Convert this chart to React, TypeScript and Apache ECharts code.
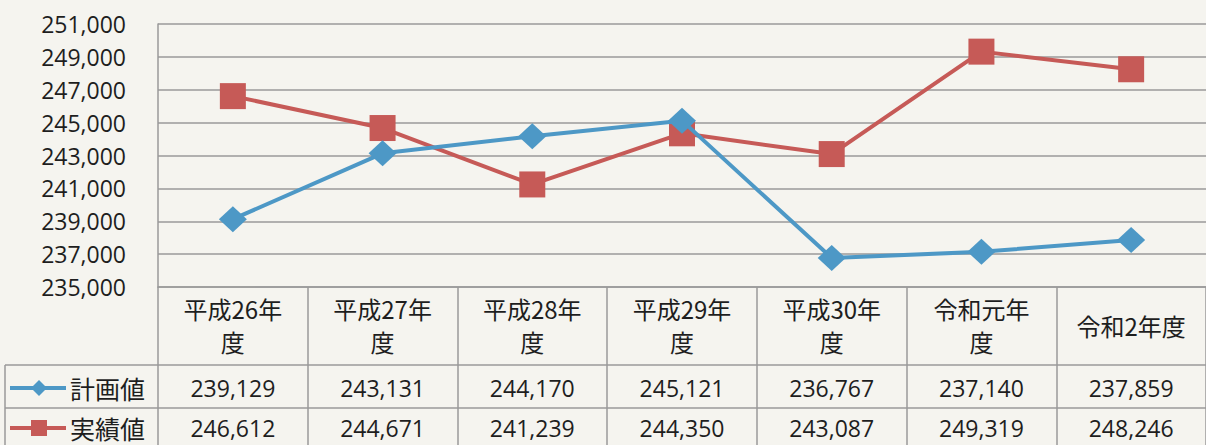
import React, { useEffect, useRef } from "react";
import * as echarts from "echarts";

const categories = ["平成26年\n度", "平成27年\n度", "平成28年\n度", "平成29年\n度", "平成30年\n度", "令和元年\n度", "令和2年度"];
const planned = [239129, 243131, 244170, 245121, 236767, 237140, 237859];
const actual = [246612, 244671, 241239, 244350, 243087, 249319, 248246];
const seriesNames = ["計画値", "実績値"];
const yMin = 235000;
const yMax = 251000;
const yStep = 2000;

const BLUE = "#4d98c6";
const RED = "#c65a57";
const GRID = "#9a9a9a";
const TEXT = "#1e1e1e";
const NUM_FONT = "'Open Sans', 'Noto Sans CJK JP', sans-serif";
const JP_FONT = "'Noto Sans CJK JP', sans-serif";

const fmt = (v: number) => v.toLocaleString("en-US");

export default function App() {
  const ref = useRef<HTMLDivElement>(null);
  useEffect(() => {
    document.body.style.margin = "0";
    const chart = echarts.init(ref.current!, null, { renderer: "svg" });
    const gridLeft = 158;
    const gridTop = 24;
    const gridBottomY = 287;
    const H = 445;
    const W = 1206;
    const row1 = 388;
    const row2 = 428;
    const valueAxis = (data: string[], offset: number) => ({
      type: "category",
      gridIndex: 0,
      position: "bottom",
      offset,
      data,
      boundaryGap: true,
      axisLine: { show: false },
      axisTick: { show: false },
      axisLabel: {
        interval: 0,
        margin: 0,
        verticalAlign: "middle",
        fontSize: 23,
        fontFamily: NUM_FONT,
        color: TEXT,
      },
    });
    chart.setOption({
      animation: false,
      backgroundColor: "#f5f4ef",
      grid: { left: gridLeft, top: gridTop, right: 0, bottom: H - gridBottomY, containLabel: false },
      xAxis: [
        {
          type: "category",
          data: categories,
          boundaryGap: true,
          position: "bottom",
          axisLine: { show: true, lineStyle: { color: GRID, width: 1.5 } },
          axisTick: { show: true, alignWithLabel: false, interval: 0, length: H - gridBottomY, lineStyle: { color: GRID, width: 1.5 } },
          axisLabel: {
            interval: 0,
            margin: 38,
            verticalAlign: "middle",
            lineHeight: 33,
            fontSize: 24,
            fontFamily: JP_FONT,
            color: TEXT,
          },
        },
        valueAxis(planned.map(fmt), row1 - gridBottomY),
        valueAxis(actual.map(fmt), row2 - gridBottomY),
      ],
      yAxis: {
        type: "value",
        min: yMin,
        max: yMax,
        interval: yStep,
        axisLine: { show: true, lineStyle: { color: GRID, width: 1.5 } },
        axisTick: { show: false },
        splitLine: { show: true, lineStyle: { color: GRID, width: 1.5 } },
        axisLabel: {
          margin: 32,
          fontSize: 23,
          fontFamily: NUM_FONT,
          color: TEXT,
          formatter: (v: number) => fmt(v),
        },
      },
      series: [
        {
          name: seriesNames[0],
          type: "line",
          xAxisIndex: 0,
          data: planned,
          symbol: "diamond",
          symbolSize: [28, 26],
          itemStyle: { color: BLUE },
          lineStyle: { color: BLUE, width: 4 },
          z: 3,
        },
        {
          name: seriesNames[1],
          type: "line",
          xAxisIndex: 0,
          data: actual,
          symbol: "rect",
          symbolSize: 26,
          itemStyle: { color: RED },
          lineStyle: { color: RED, width: 4 },
          z: 2,
        },
      ],
      graphic: [
        { type: "line", shape: { x1: 5, y1: 365, x2: W, y2: 365 }, style: { stroke: GRID, lineWidth: 1.5 } },
        { type: "line", shape: { x1: 5, y1: 408, x2: W, y2: 408 }, style: { stroke: GRID, lineWidth: 1.5 } },
        { type: "line", shape: { x1: 5, y1: 365, x2: 5, y2: H }, style: { stroke: GRID, lineWidth: 1.5 } },
        { type: "line", shape: { x1: 10, y1: row1, x2: 66, y2: row1 }, style: { stroke: BLUE, lineWidth: 4 } },
        { type: "polygon", shape: { points: [[39, row1 - 8], [47, row1], [39, row1 + 8], [31, row1]] }, style: { fill: BLUE } },
        { type: "line", shape: { x1: 10, y1: row2, x2: 66, y2: row2 }, style: { stroke: RED, lineWidth: 4 } },
        { type: "rect", shape: { x: 31, y: row2 - 8, width: 16, height: 16 }, style: { fill: RED } },
        { type: "text", x: 70, y: row1, style: { text: seriesNames[0], fontSize: 25, fontFamily: JP_FONT, fill: TEXT, verticalAlign: "middle" } },
        { type: "text", x: 70, y: row2, style: { text: seriesNames[1], fontSize: 25, fontFamily: JP_FONT, fill: TEXT, verticalAlign: "middle" } },
      ],
    });
    return () => chart.dispose();
  }, []);
  return <div ref={ref} style={{ position: "absolute", left: 0, top: 0, width: 1206, height: 445 }} />;
}
